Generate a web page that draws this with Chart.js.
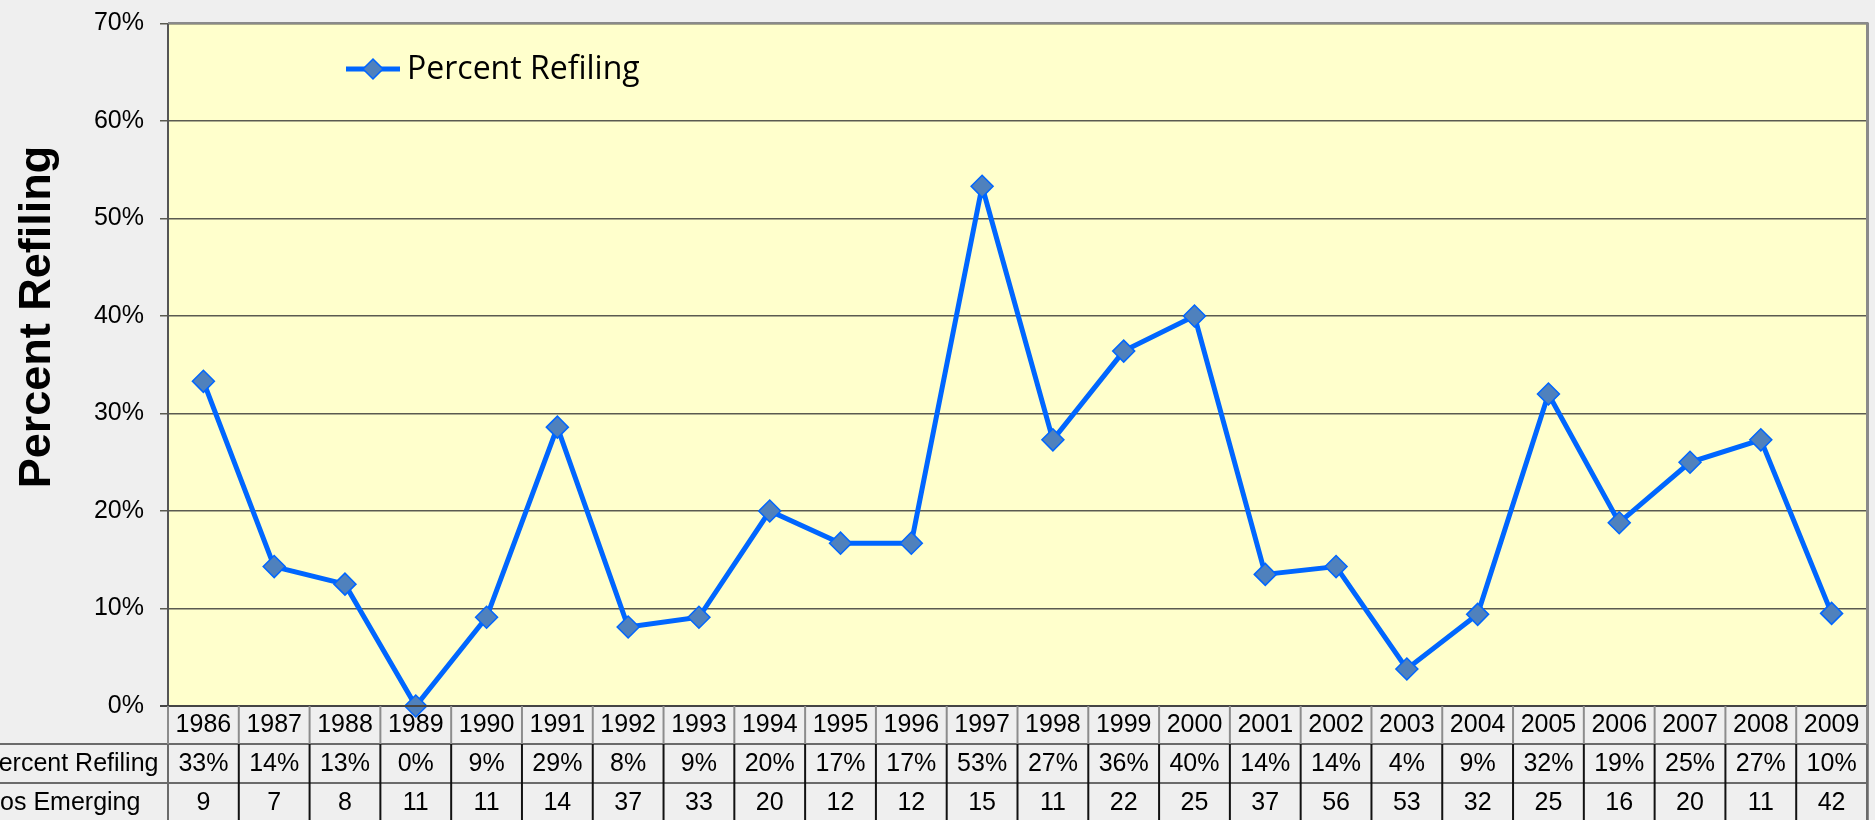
<!DOCTYPE html>
<html>
<head>
<meta charset="utf-8">
<script src="https://cdn.jsdelivr.net/npm/chart.js@4/dist/chart.umd.min.js"></script>
<style>
  html, body { margin: 0; padding: 0; background: #efefef; }
  #wrap { width: 1875px; height: 820px; }
</style>
</head>
<body>
<div id="wrap"><canvas id="c" width="1875" height="820"></canvas></div>
<script>
// ---- data ----
const years = ['1986','1987','1988','1989','1990','1991','1992','1993','1994','1995','1996','1997',
               '1998','1999','2000','2001','2002','2003','2004','2005','2006','2007','2008','2009'];
const percentRefiling = [33.3, 14.3, 12.5, 0.0, 9.1, 28.6, 8.1, 9.1, 20.0, 16.7, 16.7, 53.3,
                         27.3, 36.4, 40.0, 13.5, 14.3, 3.8, 9.4, 32.0, 18.8, 25.0, 27.3, 9.5];
const refilingLabels = ['33%','14%','13%','0%','9%','29%','8%','9%','20%','17%','17%','53%',
                        '27%','36%','40%','14%','14%','4%','9%','32%','19%','25%','27%','10%'];
const cosEmerging = [9, 7, 8, 11, 11, 14, 37, 33, 20, 12, 12, 15, 11, 22, 25, 37, 56, 53, 32, 25, 16, 20, 11, 42];
const rowLabels = ['Percent Refiling', 'Cos Emerging'];
const yTickValues = [0, 10, 20, 30, 40, 50, 60, 70];
const seriesName = 'Percent Refiling';
const yTitle = 'Percent Refiling';

const FONT = "'Liberation Sans', Arial, sans-serif";

const decor = {
  id: 'decor',
  beforeDraw(chart) {
    const { ctx, chartArea: a } = chart;
    ctx.save();
    ctx.fillStyle = '#efefef';
    ctx.fillRect(0, 0, chart.width, chart.height);
    ctx.fillStyle = '#ffffcc';
    ctx.fillRect(a.left, a.top, a.right - a.left, a.bottom - a.top);
    ctx.restore();
  },
  afterDraw(chart) {
    const { ctx, chartArea: a } = chart;
    const xs = chart.scales.x;
    const n = years.length;
    const bw = (a.right - a.left) / n;
    const rowTop = a.bottom;
    const r1 = rowTop + 38, r2 = rowTop + 77, r3 = chart.height + 2;
    ctx.save();
    // plot border (top / right)
    ctx.strokeStyle = '#8a8a8a';
    ctx.lineWidth = 2;
    ctx.beginPath(); ctx.moveTo(a.left, a.top - 0.5); ctx.lineTo(a.right + 1, a.top - 0.5); ctx.stroke();
    ctx.lineWidth = 3;
    ctx.beginPath(); ctx.moveTo(a.right + 0.5, a.top - 1); ctx.lineTo(a.right + 0.5, chart.height); ctx.stroke();

    // x axis line
    ctx.strokeStyle = '#444';
    ctx.lineWidth = 2;
    ctx.beginPath(); ctx.moveTo(a.left - 8, rowTop); ctx.lineTo(a.right, rowTop); ctx.stroke();

    // table horizontal lines
    ctx.strokeStyle = '#6a6a6a';
    ctx.lineWidth = 2;
    [r1, r2].forEach(y => { ctx.beginPath(); ctx.moveTo(0, y); ctx.lineTo(a.right, y); ctx.stroke(); });

    // vertical separators
    for (let i = 0; i <= n; i++) {
      const x = (i < n ? xs.getPixelForValue(i) - bw / 2 : xs.getPixelForValue(n - 1) + bw / 2);
      ctx.strokeStyle = '#8c8c8c';
      ctx.lineWidth = 2;
      ctx.beginPath(); ctx.moveTo(x, rowTop); ctx.lineTo(x, r1); ctx.stroke();
      ctx.strokeStyle = (i === 0 || i === n) ? '#6a6a6a' : '#111';
      ctx.beginPath(); ctx.moveTo(x, r1); ctx.lineTo(x, r3); ctx.stroke();
    }

    // table text
    ctx.fillStyle = '#000';
    ctx.font = '25px ' + FONT;
    ctx.textAlign = 'center';
    ctx.textBaseline = 'middle';
    for (let i = 0; i < n; i++) {
      const x = xs.getPixelForValue(i);
      ctx.fillText(refilingLabels[i], x, (r1 + r2) / 2 + 1);
      ctx.fillText(String(cosEmerging[i]), x, (r2 + r3) / 2 + 1);
    }
    ctx.textAlign = 'left';
    ctx.fillText(rowLabels[0], -18, (r1 + r2) / 2 + 1);
    ctx.fillText(rowLabels[1], -18, (r2 + r3) / 2 + 1);

    // y axis title
    ctx.save();
    ctx.translate(50, 317);
    ctx.rotate(-Math.PI / 2);
    ctx.font = 'bold 45px ' + FONT;
    ctx.textAlign = 'center';
    ctx.textBaseline = 'alphabetic';
    ctx.fillText(yTitle, 0, 0);
    ctx.restore();

    // legend
    const ly = 69;
    ctx.strokeStyle = '#0066ff';
    ctx.lineWidth = 5;
    ctx.beginPath(); ctx.moveTo(346, ly); ctx.lineTo(400, ly); ctx.stroke();
    ctx.beginPath();
    ctx.moveTo(373, ly - 10); ctx.lineTo(383, ly); ctx.lineTo(373, ly + 10); ctx.lineTo(363, ly); ctx.closePath();
    ctx.fillStyle = '#4f81bd';
    ctx.fill();
    ctx.lineWidth = 1.5;
    ctx.strokeStyle = '#0066ff';
    ctx.stroke();
    ctx.fillStyle = '#000';
    ctx.font = "32px 'Open Sans', sans-serif";
    ctx.textAlign = 'left';
    ctx.textBaseline = 'alphabetic';
    ctx.fillText(seriesName, 407, 79);
    ctx.restore();
  }
};

new Chart(document.getElementById('c'), {
  type: 'line',
  data: {
    labels: years,
    datasets: [{
      label: seriesName,
      data: percentRefiling,
      borderColor: '#0066ff',
      borderWidth: 5,
      tension: 0,
      pointStyle: 'rectRot',
      pointRadius: 11,
      pointHoverRadius: 11,
      pointBackgroundColor: '#4f81bd',
      pointBorderColor: '#0066ff',
      pointBorderWidth: 1.5,
      clip: false
    }]
  },
  options: {
    responsive: false,
    animation: false,
    devicePixelRatio: 1,
    layout: { autoPadding: false, padding: { top: 20, right: 8, left: 0, bottom: 0 } },
    plugins: { legend: { display: false }, tooltip: { enabled: false } },
    scales: {
      x: {
        type: 'category',
        offset: true,
        grid: { display: false, drawTicks: false },
        border: { display: false },
        ticks: {
          color: '#000',
          font: { family: FONT, size: 25 },
          padding: 4,
          maxRotation: 0,
          autoSkip: false
        },
        afterFit(s) { s.height = 114; s.paddingLeft = 0; s.paddingRight = 0; }
      },
      y: {
        min: 0,
        max: 70,
        afterBuildTicks(s) { s.ticks = yTickValues.map(v => ({ value: v })); },
        ticks: {
          color: '#000',
          font: { family: FONT, size: 25, lineHeight: 0.6 },
          padding: 16,
          callback: v => v + '%'
        },
        grid: { color: '#5a5a50', lineWidth: 1.5, tickLength: 8, tickColor: '#5a5a50' },
        border: { display: true, color: '#555', width: 2 },
        afterFit(s) { s.width = 168; }
      }
    }
  },
  plugins: [decor]
});
</script>
</body>
</html>
